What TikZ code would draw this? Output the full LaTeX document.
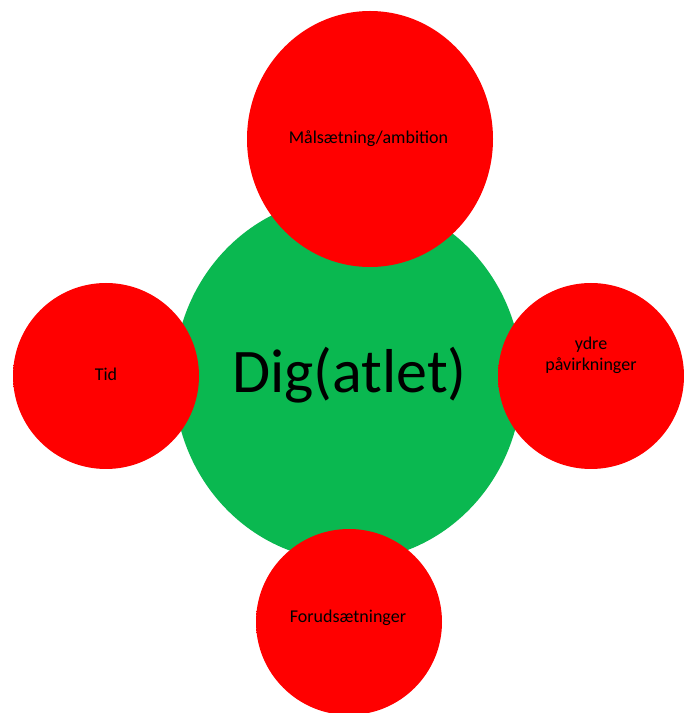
\documentclass[tikz,border=0pt]{standalone}
\usepackage{fontspec}
\setmainfont{Carlito}
\usetikzlibrary{shapes.geometric}
\definecolor{ballgreen}{RGB}{10,184,80}
\definecolor{ballred}{RGB}{255,0,0}
\pgfdeclareradialshading{redball}{\pgfpoint{0bp}{0bp}}{color(0bp)=(ballred); color(45bp)=(ballred); color(48.5bp)=(ballred!88!black); color(50bp)=(ballred!72!black); color(60bp)=(ballred!72!black)}
\pgfdeclareradialshading{greenball}{\pgfpoint{0bp}{0bp}}{color(0bp)=(ballgreen); color(46bp)=(ballgreen); color(49bp)=(ballgreen!90!black); color(50bp)=(ballgreen!78!black); color(60bp)=(ballgreen!78!black)}
\tikzset{
  redcircle/.style={circle, shading=redball, inner sep=0pt, minimum size=#1},
  redoval/.style={ellipse, shading=redball, inner sep=0pt},
  bigball/.style={ellipse, shading=greenball, inner sep=0pt},
  smalltext/.style={font=\fontsize{18}{21}\selectfont, text=black, inner sep=0pt, align=center},
  bigtext/.style={font=\fontsize{62}{70}\selectfont, text=black, inner sep=0pt}
}
\begin{document}
\begin{tikzpicture}[x=1pt,y=1pt]
\useasboundingbox (0,0) rectangle (685,713);
\fill[white] (0,0) rectangle (685,713);
% central green
\node[bigball, minimum width=348pt, minimum height=364pt] (me) at (348,334) {};
% satellites
\node[redoval, minimum width=246pt, minimum height=256pt] (goal) at (370,574) {};
\node[redcircle=186pt] (time) at (106,337) {};
\node[redcircle=186pt] (ext) at (591,337) {};
\node[redcircle=186pt] (pre) at (349,91) {};
% labels
\node[bigtext, anchor=base] (metext) at (349.5,320) {Dig(atlet)};
\node[smalltext, anchor=base] (goaltext) at (368.5,569) {Målsætning/ambition};
\node[smalltext, anchor=base] (timetext) at (106,332) {Tid};
\node[smalltext, anchor=base] (exttext) at (591,342) {ydre\\påvirkninger};
\node[smalltext, anchor=base] (pretext) at (348,90) {Forudsætninger};
\end{tikzpicture}
\end{document}
